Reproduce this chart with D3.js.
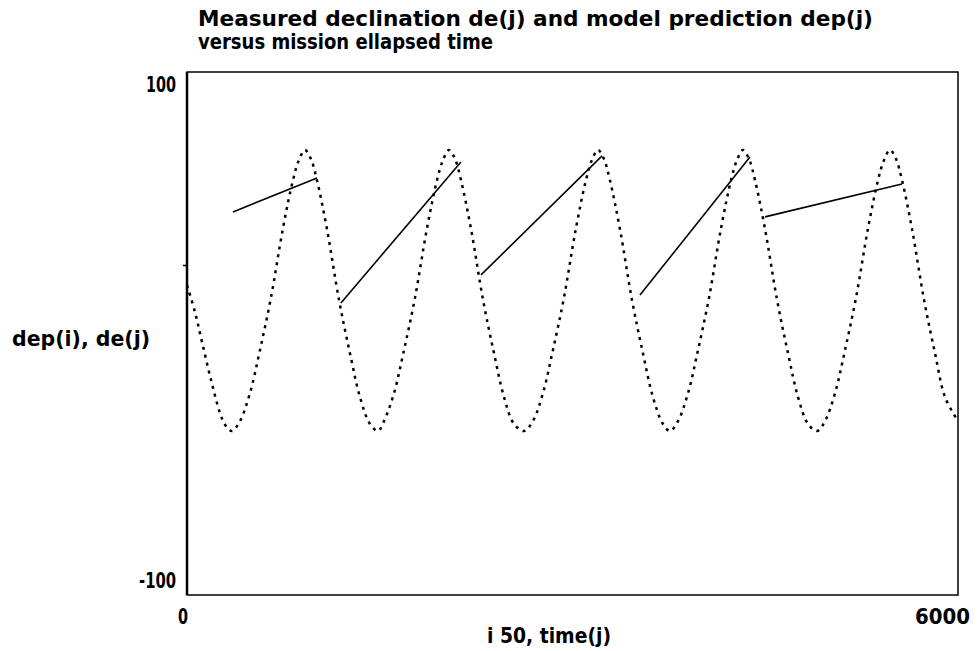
<!DOCTYPE html>
<html>
<head>
<meta charset="utf-8">
<script src="https://cdn.jsdelivr.net/npm/d3@7"></script>
<style>
  body { margin: 0; background: #fff; }
  text { font-family: "Liberation Sans Narrow", "DejaVu Sans", "Liberation Sans", sans-serif; font-stretch: condensed; font-weight: bold; fill: #000; }
</style>
</head>
<body>
<div id="chart"></div>
<script>
// ---- data ----
const titleLines = ["Measured declination de(j) and model prediction dep(j)", "versus mission ellapsed time"];
const xTickLabels = ["0", "6000"];
const yTickLabels = ["100", "-100"];
const yMinorTicks = [26];

// model prediction dep(i) (dotted curve)
const modelTime = [0, 62, 117, 187, 257, 296, 350,
  412, 490, 568, 653, 747, 825, 871, 918, 965, 1011, 1089, 1183, 1268, 1346, 1424, 1486,
  1533, 1611, 1689, 1774, 1868, 1946, 1992, 2039, 2086, 2132, 2210, 2304, 2389, 2467, 2545, 2623,
  2692, 2770, 2848, 2933, 3027, 3105, 3151, 3198, 3245, 3291, 3369, 3463, 3548, 3626, 3704, 3759,
  3821, 3899, 3977, 4062, 4156, 4234, 4280, 4327, 4374, 4420, 4498, 4592, 4677, 4755, 4833, 4903,
  4965, 5043, 5121, 5206, 5300, 5378, 5424, 5471, 5518, 5564, 5642, 5736, 5821, 5899, 6000];
const modelDep = [18.5, 8.2, -3.3, -17.8, -30.4, -34.9, -37.3,
  -33.5, -22.8, -6.3, 13.6, 40.3, 58.7, 66.3, 70.2, 66.7, 58.7, 40.0, 12.8, -7.5, -24.3, -34.6, -37.3,
  -33.5, -22.8, -6.3, 13.6, 40.3, 58.7, 66.3, 70.2, 66.7, 58.7, 40.0, 12.8, -7.5, -24.3, -34.6, -37.3,
  -33.5, -22.8, -6.3, 13.6, 40.3, 58.7, 66.3, 70.2, 66.7, 58.7, 40.0, 12.8, -7.5, -24.3, -34.6, -37.3,
  -33.5, -22.8, -6.3, 13.6, 40.3, 58.7, 66.3, 70.2, 66.7, 58.7, 40.0, 12.8, -7.5, -24.3, -34.6, -37.3,
  -33.5, -22.8, -6.3, 13.6, 40.3, 58.7, 66.3, 70.2, 66.7, 58.7, 40.0, 12.8, -7.5, -24.3, -33.5];

// measured declination de(j) (solid segments, one per pass)
const measuredTime = [[358, 1012], [1198, 2132], [2288, 3230], [3525, 4381], [4498, 5564]];
const measuredDe = [[46.5, 59.5], [11.7, 65.6], [22.4, 67.9], [14.7, 67.5], [44.6, 57.2]];

// ---- layout ----
const width = 979;
const height = 651;
const margin = { left: 187, right: 21, top: 72, bottom: 56 };

const svg = d3.select("#chart").append("svg")
  .attr("width", width)
  .attr("height", height);

const x = d3.scaleLinear().domain([0, 6000]).range([margin.left, width - margin.right]);
const y = d3.scaleLinear().domain([-100, 100]).range([height - margin.bottom, margin.top]);

// helper for the tall condensed lettering of the original
function label(tx, ty, str, len, size) {
  return svg.append("text")
    .attr("x", tx).attr("y", ty)
    .attr("font-size", size || 21)
    .attr("textLength", len)
    .attr("lengthAdjust", "spacingAndGlyphs")
    .text(str);
}

// title
label(198, 26, titleLines[0], 675);
label(198, 49, titleLines[1], 295);

// frame
svg.append("rect")
  .attr("x", x(0)).attr("y", y(100))
  .attr("width", x(6000) - x(0)).attr("height", y(-100) - y(100))
  .attr("fill", "none").attr("stroke", "#000").attr("stroke-width", 1.5);
svg.append("line")
  .attr("x1", x(0)).attr("x2", x(0)).attr("y1", y(100)).attr("y2", y(-100))
  .attr("stroke", "#000").attr("stroke-width", 2.5);

// small tick on y axis
svg.selectAll(".ytick").data(yMinorTicks).enter().append("line")
  .attr("class", "ytick")
  .attr("x1", x(0) - 4).attr("x2", x(0))
  .attr("y1", (d) => y(d)).attr("y2", (d) => y(d))
  .attr("stroke", "#000").attr("stroke-width", 1.5);

// axis labels
label(146, 92, yTickLabels[0], 30, 22);
label(139, 588, yTickLabels[1], 37, 22);
label(12, 346, "dep(i), de(j)", 138);
label(178, 624, xTickLabels[0], 10, 22);
label(915, 624, xTickLabels[1], 55, 22);
label(487, 643, "i 50, time(j)", 124);

// model curve (dotted)
const modelPts = modelTime.map((t, i) => [t, modelDep[i]]);
const line = d3.line().x((d) => x(d[0])).y((d) => y(d[1]));
svg.append("path")
  .datum(modelPts)
  .attr("d", line.curve(d3.curveCatmullRom.alpha(0.5)))
  .attr("fill", "none")
  .attr("stroke", "#000")
  .attr("stroke-width", 2.5)
  .attr("stroke-dasharray", "3,5");

// measured segments (solid)
const segLine = d3.line().x((d) => x(d[0])).y((d) => y(d[1]));
svg.selectAll(".measured")
  .data(measuredTime.map((ts, k) => ts.map((t, i) => [t, measuredDe[k][i]])))
  .enter().append("path")
  .attr("class", "measured")
  .attr("d", segLine)
  .attr("fill", "none")
  .attr("stroke", "#000")
  .attr("stroke-width", 1.6);
</script>
</body>
</html>
